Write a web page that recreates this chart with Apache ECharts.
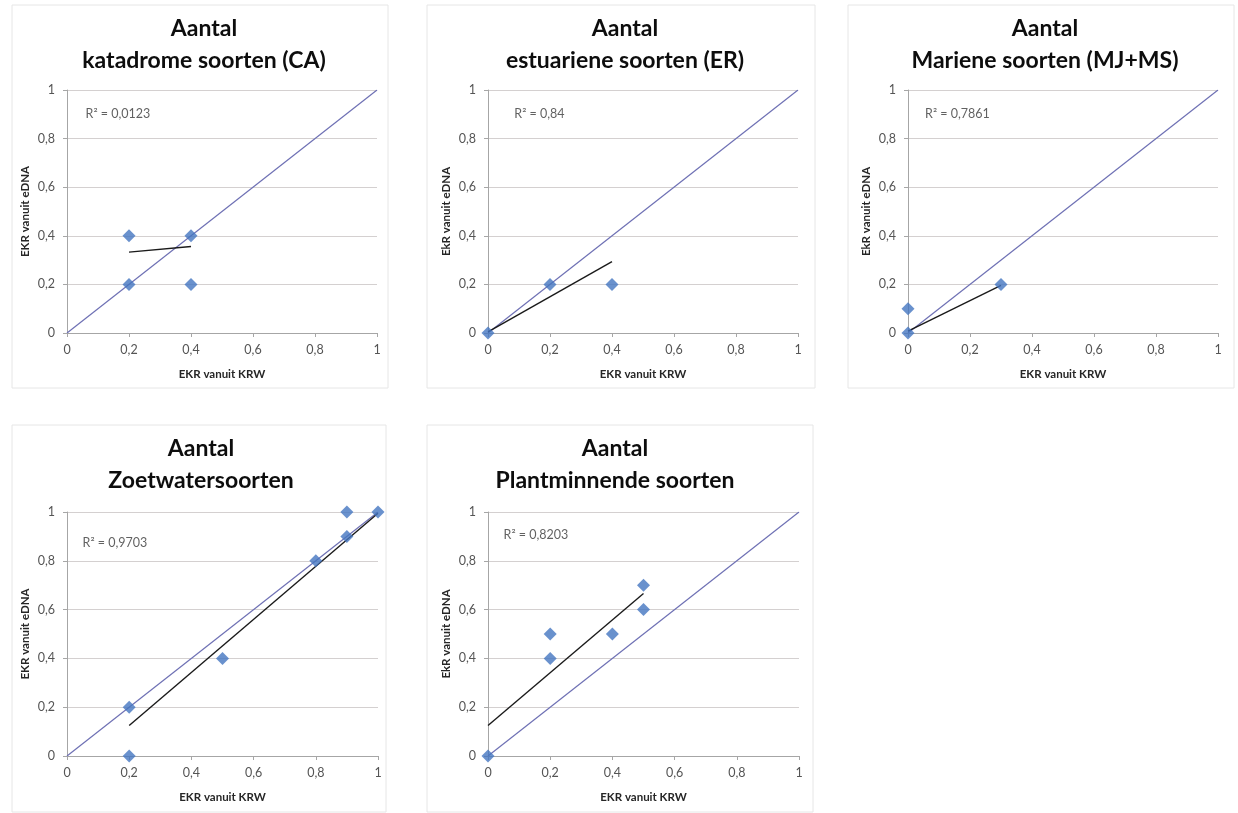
<!DOCTYPE html>
<html>
<head>
<meta charset="utf-8">
<script src="https://cdn.jsdelivr.net/npm/echarts@6/dist/echarts.min.js"></script>
<style>html,body{margin:0;padding:0;background:#fff}#c{width:1238px;height:813px}</style>
</head>
<body>
<div id="c"></div>
<script>
// ---- data ----
const titles = [
  "Aantal\nkatadrome soorten (CA)",
  "Aantal\nestuariene soorten (ER)",
  "Aantal\nMariene soorten (MJ+MS)",
  "Aantal\nZoetwatersoorten",
  "Aantal\nPlantminnende soorten"
];
const yNames = ["EKR vanuit eDNA", "EkR vanuit eDNA", "EkR vanuit eDNA", "EKR vanuit eDNA", "EkR vanuit eDNA"];
const xName = "EKR vanuit KRW";
const r2Labels = ["R\u00B2 = 0,0123", "R\u00B2 = 0,84", "R\u00B2 = 0,7861", "R\u00B2 = 0,9703", "R\u00B2 = 0,8203"];
const r2Pos = [[0.06, 0.9], [0.085, 0.9], [0.055, 0.9], [0.05, 0.875], [0.05, 0.905]];

const pointsCA = [[0.2, 0.4], [0.4, 0.4], [0.2, 0.2], [0.4, 0.2]];
const pointsER = [[0, 0], [0.2, 0.2], [0.4, 0.2]];
const pointsMar = [[0, 0], [0, 0.1], [0.3, 0.2]];
const pointsZoet = [[0.2, 0.2], [0.2, 0], [0.5, 0.4], [0.8, 0.8], [0.9, 0.9], [0.9, 1.0], [1.0, 1.0]];
const pointsPlant = [[0, 0], [0.2, 0.5], [0.2, 0.4], [0.4, 0.5], [0.5, 0.7], [0.5, 0.6]];

const trendCA = [[0.2, 0.333], [0.4, 0.356]];
const trendER = [[0, 0.005], [0.4, 0.294]];
const trendMar = [[0, 0.008], [0.3, 0.196]];
const trendZoet = [[0.2, 0.125], [1.0, 0.995]];
const trendPlant = [[0, 0.125], [0.5, 0.666]];

const diagonal = [[0, 0], [1, 1]];
const tickValues = [0, 0.2, 0.4, 0.6, 0.8, 1];

const points = [pointsCA, pointsER, pointsMar, pointsZoet, pointsPlant];
const trends = [trendCA, trendER, trendMar, trendZoet, trendPlant];

// ---- layout ----
const grids = [
  {left: 67, top: 90, width: 310, height: 243},
  {left: 488, top: 90, width: 310, height: 243},
  {left: 908, top: 90, width: 310, height: 243},
  {left: 67, top: 512, width: 311, height: 244},
  {left: 488, top: 512, width: 311, height: 244}
];
const titleCenters = [[199, 8], [620, 8], [1040, 8], [196, 428], [610, 428]];
const frames = [
  [12, 5, 376, 383], [427, 5, 388, 383], [848, 5, 386, 383],
  [12, 425, 374, 387], [427, 425, 386, 387]
];

const fmt = v => v === 0 ? "0" : v === 1 ? "1" : String(v).replace(".", ",");
const FONT = "Lato, 'Open Sans', sans-serif";

const option = {
  backgroundColor: "#ffffff",
  animation: false,
  title: titles.map((t, i) => ({
    text: t,
    left: titleCenters[i][0],
    top: titleCenters[i][1],
    textAlign: "center",
    textStyle: {fontFamily: FONT, fontSize: 23, fontWeight: "bold", color: "#0d0d0d", lineHeight: 32}
  })),
  graphic: frames.map(f => ({
    type: "rect", silent: true, z: -10,
    shape: {x: f[0], y: f[1], width: f[2], height: f[3]},
    style: {fill: "none", stroke: "#e6e6e6", lineWidth: 1}
  })),
  grid: grids.map(g => Object.assign({containLabel: false}, g)),
  xAxis: grids.map((g, i) => ({
    gridIndex: i, type: "value", min: 0, max: 1, interval: 0.2,
    name: xName, nameLocation: "middle", nameGap: 35,
    nameTextStyle: {fontFamily: FONT, fontSize: 11.5, fontWeight: "bold", color: "#262626"},
    axisLine: {show: true, lineStyle: {color: "#a6a6a6"}},
    axisTick: {show: true, length: 4, lineStyle: {color: "#a6a6a6"}},
    axisLabel: {formatter: fmt, fontFamily: FONT, fontSize: 12.5, color: "#555555", margin: 10},
    splitLine: {show: false}
  })),
  yAxis: grids.map((g, i) => ({
    gridIndex: i, type: "value", min: 0, max: 1, interval: 0.2,
    name: yNames[i], nameLocation: "middle", nameGap: 36,
    nameTextStyle: {fontFamily: FONT, fontSize: 11.5, fontWeight: "bold", color: "#262626"},
    axisLine: {show: true, lineStyle: {color: "#a6a6a6"}},
    axisTick: {show: true, length: 4, lineStyle: {color: "#a6a6a6"}},
    axisLabel: {formatter: fmt, fontFamily: FONT, fontSize: 12.5, color: "#555555", margin: 12},
    splitLine: {show: true, lineStyle: {color: "#d4d0d0", width: 1}}
  })),
  series: []
};

for (let i = 0; i < 5; i++) {
  option.series.push({
    type: "line", xAxisIndex: i, yAxisIndex: i, data: diagonal,
    symbol: "none", lineStyle: {color: "#6e70b4", width: 1.2}, z: 2, silent: true
  });
  option.series.push({
    type: "line", xAxisIndex: i, yAxisIndex: i, data: trends[i],
    symbol: "none", lineStyle: {color: "#1a1a1a", width: 1.4}, z: 3, silent: true
  });
  option.series.push({
    type: "scatter", xAxisIndex: i, yAxisIndex: i, data: points[i],
    symbol: "diamond", symbolSize: 13, itemStyle: {color: "#4476c0"}, z: 4
  });
  option.series.push({
    type: "scatter", xAxisIndex: i, yAxisIndex: i, data: [r2Pos[i]],
    symbolSize: 0, silent: true, z: 5,
    label: {show: true, position: "right", distance: 0, formatter: r2Labels[i],
      fontFamily: FONT, fontSize: 12.5, color: "#3a3a3a"}
  });
}

const chart = echarts.init(document.getElementById("c"), null, {renderer: "canvas"});
chart.setOption(option);
</script>
</body>
</html>
